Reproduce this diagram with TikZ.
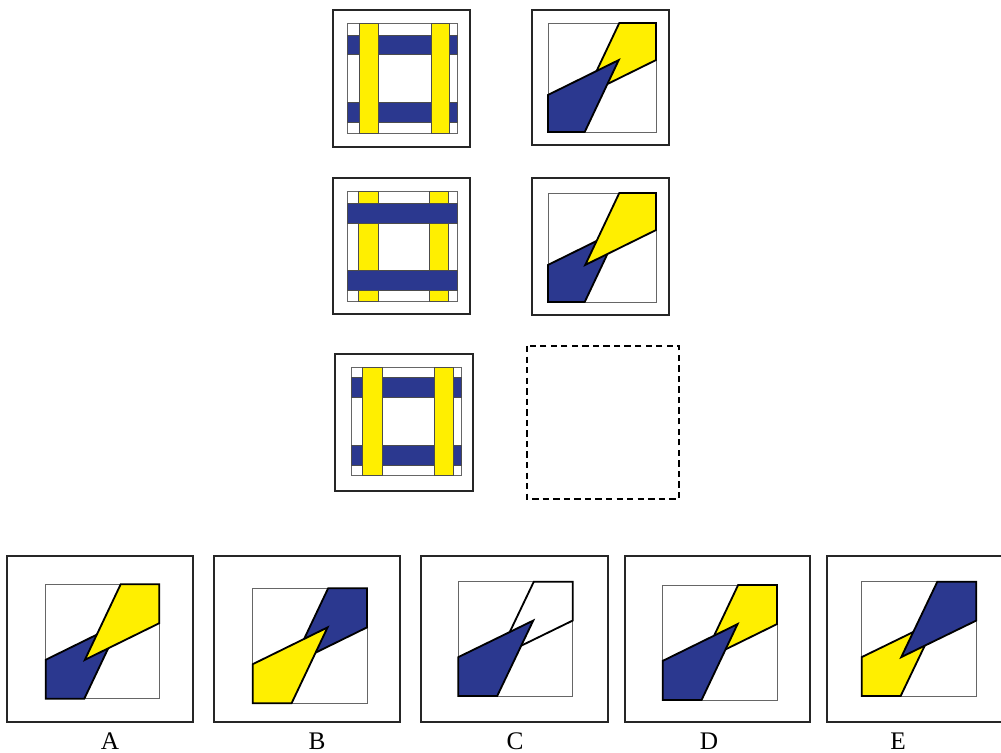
\documentclass[tikz,border=0pt]{standalone}
\usepackage{fontspec}
\setmainfont{Liberation Serif}
\usepackage{tikz}
\usetikzlibrary{calc}

\definecolor{navy}{RGB}{43,56,143}
\definecolor{yell}{RGB}{255,239,0}

\tikzset{
  frame/.style={draw=black!85,line width=1.3pt},
  inner/.style={draw=black!60,line width=0.6pt,fill=white},
  piece/.style={draw=black,line width=1.3pt,line join=miter},
  bar/.style={draw=black!70,line width=0.5pt},
  optlabel/.style={font=\fontsize{18}{18}\selectfont,inner sep=0pt}
}

\begin{document}
\begin{tikzpicture}[x=0.025cm,y=-0.025cm]
  \useasboundingbox (0,0) rectangle (1001,753); % 画像全体の範囲
  % 1段目
  \draw[frame] (333,10) rectangle (470,147); % 左の外枠
  \draw[inner] (347,23) rectangle (457,133); % 左の内枠
  \filldraw[bar,fill=navy] (347,35) rectangle (457,54); % 上の青い横棒
  \filldraw[bar,fill=navy] (347,102) rectangle (457,122); % 下の青い横棒
  \filldraw[bar,fill=yell] (359,23) rectangle (378,133); % 左の黄色い縦棒（上）
  \filldraw[bar,fill=yell] (431,23) rectangle (449,133); % 右の黄色い縦棒（上）
  \draw[frame] (532,10) rectangle (669,145); % 右の外枠
  \draw[inner] (548,23) rectangle (656,132); % 右の内枠
  \begin{scope}[shift={(548,23)},xscale=108,yscale=109]
    \filldraw[piece,fill=yell] (1,0) -- (1,0.34) -- (0.345,0.66) -- (0.66,0) -- cycle; % 右上の黄色（下）
    \filldraw[piece,fill=navy] (0,1) -- (0,0.66) -- (0.655,0.34) -- (0.34,1) -- cycle; % 左下の青（上）
  \end{scope}
  % 2段目
  \draw[frame] (333,178) rectangle (470,314); % 左の外枠
  \draw[inner] (347,191) rectangle (457,301); % 左の内枠
  \filldraw[bar,fill=yell] (358,191) rectangle (378,301); % 左の黄色い縦棒（下）
  \filldraw[bar,fill=yell] (429,191) rectangle (448,301); % 右の黄色い縦棒（下）
  \filldraw[bar,fill=navy] (347,203) rectangle (457,223); % 上の青い横棒（上）
  \filldraw[bar,fill=navy] (347,270) rectangle (457,290); % 下の青い横棒（上）
  \draw[frame] (532,178) rectangle (669,315); % 右の外枠
  \draw[inner] (548,193) rectangle (656,302); % 右の内枠
  \begin{scope}[shift={(548,193)},xscale=108,yscale=109]
    \filldraw[piece,fill=navy] (0,1) -- (0,0.66) -- (0.655,0.34) -- (0.34,1) -- cycle; % 左下の青（下）
    \filldraw[piece,fill=yell] (1,0) -- (1,0.34) -- (0.345,0.66) -- (0.66,0) -- cycle; % 右上の黄色（上）
  \end{scope}
  % 3段目
  \draw[frame] (335,354) rectangle (473,491); % 左の外枠
  \draw[inner] (351,367) rectangle (461,475); % 左の内枠
  \filldraw[bar,fill=navy] (351,377) rectangle (461,397); % 上の青い横棒
  \filldraw[bar,fill=navy] (351,445) rectangle (461,465); % 下の青い横棒
  \filldraw[bar,fill=yell] (362,367) rectangle (382,475); % 左の黄色い縦棒（上）
  \filldraw[bar,fill=yell] (434,367) rectangle (453,475); % 右の黄色い縦棒（上）
  \draw[dashed,line width=1pt,dash pattern=on 4.5pt off 3pt] (527,346) rectangle (679,499); % 空欄を表す点線の正方形
  % 選択肢A
  \draw[frame] (7,556) rectangle (193,722); % 外枠
  \draw[inner] (45.7,584.3) rectangle (159.3,698.7); % 内枠
  \begin{scope}[shift={(45.7,584.3)},xscale=113.6,yscale=114.4]
    \filldraw[piece,fill=navy] (0,1) -- (0,0.66) -- (0.655,0.34) -- (0.34,1) -- cycle; % 左下の青（下）
    \filldraw[piece,fill=yell] (1,0) -- (1,0.34) -- (0.345,0.66) -- (0.66,0) -- cycle; % 右上の黄色（上）
  \end{scope}
  \node[optlabel] (labA) at (110,741) {A};
  % 選択肢B
  \draw[frame] (214,556) rectangle (400,722); % 外枠
  \draw[inner] (252.7,588.3) rectangle (367,703.3); % 内枠
  \begin{scope}[shift={(252.7,588.3)},xscale=114.3,yscale=115]
    \filldraw[piece,fill=navy] (1,0) -- (1,0.34) -- (0.345,0.66) -- (0.66,0) -- cycle; % 右上の青（下）
    \filldraw[piece,fill=yell] (0,1) -- (0,0.66) -- (0.655,0.34) -- (0.34,1) -- cycle; % 左下の黄色（上）
  \end{scope}
  \node[optlabel] (labB) at (317,741) {B};
  % 選択肢C
  \draw[frame] (421,556) rectangle (608,722); % 外枠
  \draw[inner] (458.3,581.7) rectangle (572.7,696); % 内枠
  \begin{scope}[shift={(458.3,581.7)},xscale=114.4,yscale=114.3]
    \filldraw[piece,fill=white] (1,0) -- (1,0.34) -- (0.345,0.66) -- (0.66,0) -- cycle; % 右上の白（下）
    \filldraw[piece,fill=navy] (0,1) -- (0,0.66) -- (0.655,0.34) -- (0.34,1) -- cycle; % 左下の青（上）
  \end{scope}
  \node[optlabel] (labC) at (515,741) {C};
  % 選択肢D
  \draw[frame] (625,556) rectangle (810,722); % 外枠
  \draw[inner] (662.7,585) rectangle (777,700); % 内枠
  \begin{scope}[shift={(662.7,585)},xscale=114.3,yscale=115]
    \filldraw[piece,fill=yell] (1,0) -- (1,0.34) -- (0.345,0.66) -- (0.66,0) -- cycle; % 右上の黄色（下）
    \filldraw[piece,fill=navy] (0,1) -- (0,0.66) -- (0.655,0.34) -- (0.34,1) -- cycle; % 左下の青（上）
  \end{scope}
  \node[optlabel] (labD) at (709,741) {D};
  % 選択肢E
  \draw[frame] (827,556) rectangle (1008,722); % 外枠（右端は切れる）
  \draw[inner] (861.7,581.7) rectangle (976.3,696); % 内枠
  \begin{scope}[shift={(861.7,581.7)},xscale=114.6,yscale=114.3]
    \filldraw[piece,fill=yell] (0,1) -- (0,0.66) -- (0.655,0.34) -- (0.34,1) -- cycle; % 左下の黄色（下）
    \filldraw[piece,fill=navy] (1,0) -- (1,0.34) -- (0.345,0.66) -- (0.66,0) -- cycle; % 右上の青（上）
  \end{scope}
  \node[optlabel] (labE) at (898,741) {E};
\end{tikzpicture}
\end{document}
